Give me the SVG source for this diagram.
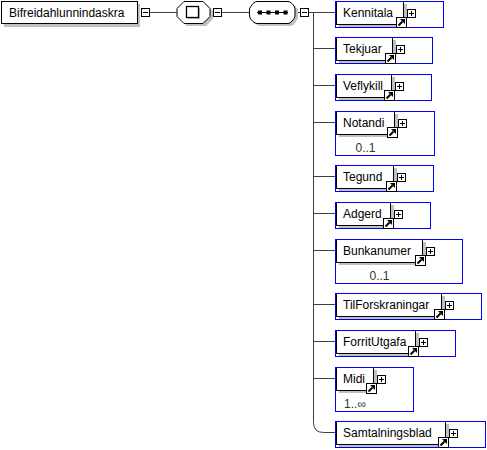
<svg xmlns="http://www.w3.org/2000/svg" xmlns:xlink="http://www.w3.org/1999/xlink" width="487" height="450" viewBox="0 0 487 450">
<style>
text{font-family:"Liberation Sans",Arial,sans-serif;font-size:12px;fill:#000}
.occ{font-size:12px;fill:#333;text-anchor:middle}
.sh{fill:#c0c0c0;shape-rendering:crispEdges}
.el{fill:#fff;stroke:#000;stroke-width:1}
rect.el{shape-rendering:crispEdges}
.fr{fill:none;stroke:#0000ff;stroke-width:1;shape-rendering:crispEdges}
.ln{fill:none;stroke:#404040;stroke-width:1}
</style>
<defs>
<g id="plus"><rect x="0.5" y="0.5" width="8" height="8" fill="#fff" stroke="#000" shape-rendering="crispEdges"/><path d="M2 4.5H7M4.5 2V7" stroke="#000" stroke-width="1" shape-rendering="crispEdges"/></g>
<g id="minus"><rect x="0.5" y="0.5" width="8" height="8" fill="#fff" stroke="#000" shape-rendering="crispEdges"/><path d="M2 4.5H7" stroke="#000" stroke-width="1" shape-rendering="crispEdges"/></g>
<g id="ico"><rect x="0.5" y="0.5" width="10" height="10" fill="#fff" stroke="#000" shape-rendering="crispEdges"/><path d="M2.5 8.5L6.5 4.5" stroke="#000" stroke-width="2"/><polygon points="4,2 9,2 9,7" fill="#000"/></g>
</defs>

<g id="connectors">
<path class="ln" d="M149 12.5H177M210 12.5H213M221 12.5H249M295 12.5H300M307 12.5H335"/>
<path class="ln" d="M313.5 12.5V422.5Q313.5 432.5 323.5 432.5H335"/>
<path class="ln" d="M313.5 48.5H335M313.5 85.5H335M313.5 122.5H335M313.5 176.5H335M313.5 213.5H335M313.5 250.5H335M313.5 304.5H335M313.5 341.5H335M313.5 378.5H335"/>
</g>

<g id="root">
<rect class="sh" x="4" y="4" width="136" height="23"/>
<rect class="el" x="1.5" y="1.5" width="136" height="22"/>
<text x="9" y="17">Bifreidahlunnindaskra</text>
<use xlink:href="#minus" x="141" y="8"/>
</g>

<g id="complexType">
<path fill="#c0c0c0" d="M187 4H206L213 11V19L206 26H187L180 19V11Z"/>
<path class="el" d="M184 1.5H203L210 8.5V16.5L203 23.5H184L177 16.5V8.5Z"/>
<rect class="sh" x="188" y="8" width="12" height="11"/>
<rect x="186.5" y="6.5" width="12" height="11" fill="#fff" stroke="#000" stroke-width="1.3"/>
<use xlink:href="#minus" x="213" y="8"/>
</g>

<g id="sequence">
<path fill="#c0c0c0" d="M260 4H291Q293 4 295 6L298 9Q298 11 298 13V17Q298 19 297 20L295 23Q293 26 291 26H260Q258 26 256 24L253 21Q252 19 252 17V13Q252 11 253 10L256 6Q258 4 260 4Z"/>
<path class="el" d="M257 1.5H288Q290 1.5 292 3.5L294 6Q295 8 295 10V15Q295 17 294 18.5L292 21Q290 23.5 288 23.5H257Q255 23.5 253 21.5L250.5 19Q249.5 17 249.5 15V10Q249.5 8 250.5 7L253 3.5Q255 1.5 257 1.5Z"/>
<path d="M257 12.5H288" stroke="#000" stroke-width="1"/>
<rect x="258" y="10.5" width="4" height="4" fill="#000"/>
<rect x="266.5" y="10.5" width="4" height="4" fill="#000"/>
<rect x="275" y="10.5" width="4" height="4" fill="#000"/>
<rect x="283.5" y="10.5" width="4" height="4" fill="#000"/>
<use xlink:href="#minus" x="300" y="8"/>
</g>

<g id="n-Kennitala">
<rect class="sh" x="339" y="4" width="68" height="23"/>
<rect class="el" x="336.5" y="1.5" width="67" height="23"/>
<rect class="fr" x="335.5" y="1.5" width="108" height="26"/>
<text x="343" y="17">Kennitala</text>
<use xlink:href="#ico" x="396" y="17"/>
<use xlink:href="#plus" x="407" y="9"/>
</g>

<g id="n-Tekjuar">
<rect class="sh" x="339" y="40" width="57" height="23"/>
<rect class="el" x="336.5" y="37.5" width="56" height="23"/>
<rect class="fr" x="335.5" y="37.5" width="97" height="26"/>
<text x="343" y="53">Tekjuar</text>
<use xlink:href="#ico" x="385" y="53"/>
<use xlink:href="#plus" x="396" y="45"/>
</g>

<g id="n-Veflykill">
<rect class="sh" x="339" y="77" width="56" height="23"/>
<rect class="el" x="336.5" y="74.5" width="55" height="23"/>
<rect class="fr" x="335.5" y="74.5" width="96" height="26"/>
<text x="343" y="90">Veflykill</text>
<use xlink:href="#ico" x="384" y="90"/>
<use xlink:href="#plus" x="395" y="82"/>
</g>

<g id="n-Notandi">
<rect class="sh" x="339" y="114" width="59" height="23"/>
<rect class="el" x="336.5" y="111.5" width="58" height="23"/>
<rect class="fr" x="335.5" y="111.5" width="99" height="44"/>
<text x="343" y="127">Notandi</text>
<text class="occ" x="365.5" y="151.5">0..1</text>
<use xlink:href="#ico" x="387" y="127"/>
<use xlink:href="#plus" x="398" y="119"/>
</g>

<g id="n-Tegund">
<rect class="sh" x="339" y="168" width="58" height="23"/>
<rect class="el" x="336.5" y="165.5" width="57" height="23"/>
<rect class="fr" x="335.5" y="165.5" width="98" height="26"/>
<text x="343" y="181">Tegund</text>
<use xlink:href="#ico" x="386" y="181"/>
<use xlink:href="#plus" x="397" y="173"/>
</g>

<g id="n-Adgerd">
<rect class="sh" x="339" y="205" width="55" height="23"/>
<rect class="el" x="336.5" y="202.5" width="54" height="23"/>
<rect class="fr" x="335.5" y="202.5" width="95" height="26"/>
<text x="343" y="218">Adgerd</text>
<use xlink:href="#ico" x="383" y="218"/>
<use xlink:href="#plus" x="394" y="210"/>
</g>

<g id="n-Bunkanumer">
<rect class="sh" x="339" y="242" width="87" height="23"/>
<rect class="el" x="336.5" y="239.5" width="86" height="23"/>
<rect class="fr" x="335.5" y="239.5" width="127" height="44"/>
<text x="343" y="255">Bunkanumer</text>
<text class="occ" x="379.5" y="279.5">0..1</text>
<use xlink:href="#ico" x="415" y="255"/>
<use xlink:href="#plus" x="426" y="247"/>
</g>

<g id="n-TilForskraningar">
<rect class="sh" x="339" y="296" width="106" height="23"/>
<rect class="el" x="336.5" y="293.5" width="105" height="23"/>
<rect class="fr" x="335.5" y="293.5" width="146" height="26"/>
<text x="343" y="309">TilForskraningar</text>
<use xlink:href="#ico" x="434" y="309"/>
<use xlink:href="#plus" x="445" y="301"/>
</g>

<g id="n-ForritUtgafa">
<rect class="sh" x="339" y="333" width="80" height="23"/>
<rect class="el" x="336.5" y="330.5" width="79" height="23"/>
<rect class="fr" x="335.5" y="330.5" width="120" height="26"/>
<text x="343" y="346">ForritUtgafa</text>
<use xlink:href="#ico" x="408" y="346"/>
<use xlink:href="#plus" x="419" y="338"/>
</g>

<g id="n-Midi">
<rect class="sh" x="339" y="370" width="38" height="23"/>
<rect class="el" x="336.5" y="367.5" width="37" height="23"/>
<rect class="fr" x="335.5" y="367.5" width="78" height="44"/>
<text x="343" y="383">Midi</text>
<text class="occ" x="355" y="407.5">1..∞</text>
<use xlink:href="#ico" x="366" y="383"/>
<use xlink:href="#plus" x="377" y="375"/>
</g>

<g id="n-Samtalningsblad">
<rect class="sh" x="339" y="424" width="110" height="23"/>
<rect class="el" x="336.5" y="421.5" width="109" height="23"/>
<rect class="fr" x="335.5" y="421.5" width="150" height="26"/>
<text x="343" y="437">Samtalningsblad</text>
<use xlink:href="#ico" x="438" y="437"/>
<use xlink:href="#plus" x="449" y="429"/>
</g>
</svg>
